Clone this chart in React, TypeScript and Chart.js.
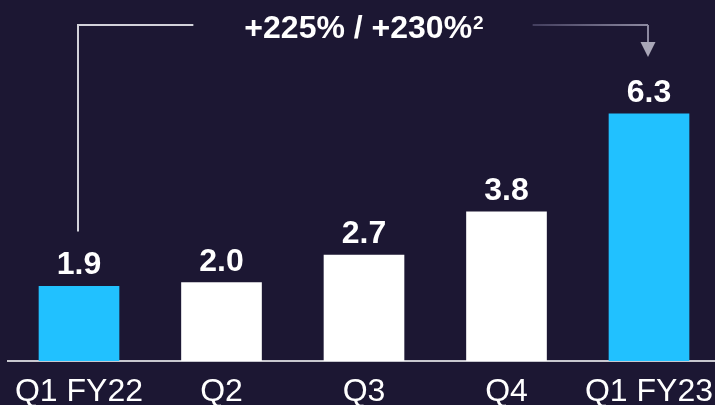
import React, { useEffect, useRef } from "react";
import { Chart, registerables } from "chart.js";

Chart.register(...registerables);

const categories = ["Q1 FY22", "Q2", "Q3", "Q4", "Q1 FY23"];
const revenue = [1.9, 2.0, 2.7, 3.8, 6.3];
const valueLabels = ["1.9", "2.0", "2.7", "3.8", "6.3"];
const barColors = ["#21c1ff", "#ffffff", "#ffffff", "#ffffff", "#21c1ff"];
const growthText = "+225% / +230%";
const growthNote = "2";

const BG = "#1c1733";
const FONT = "'Liberation Sans', Arial, sans-serif";

const overlayPlugin = {
  id: "overlay",
  afterDatasetsDraw(chart: any) {
    const ctx = chart.ctx;
    const meta = chart.getDatasetMeta(0);
    ctx.save();
    // value labels
    ctx.fillStyle = "#ffffff";
    ctx.font = `bold 32px ${FONT}`;
    ctx.textAlign = "center";
    ctx.textBaseline = "alphabetic";
    meta.data.forEach((bar: any, i: number) => {
      ctx.fillText(valueLabels[i], bar.x, bar.y - 12);
    });

    // growth annotation
    const first = meta.data[0];
    const last = meta.data[meta.data.length - 1];
    const cx = (first.x + last.x) / 2;
    const lineY = 25;
    ctx.font = `bold 32px ${FONT}`;
    const mainW = ctx.measureText(growthText).width;
    ctx.font = `bold 19px ${FONT}`;
    const supW = ctx.measureText(growthNote).width;
    const totalW = mainW + supW + 1;
    const startX = cx - totalW / 2;
    ctx.textAlign = "left";
    ctx.font = `bold 32px ${FONT}`;
    ctx.fillText(growthText, startX, 38);
    ctx.font = `bold 19px ${FONT}`;
    ctx.fillText(growthNote, startX + mainW + 1, 29);

    // left bracket
    ctx.lineWidth = 2;
    ctx.strokeStyle = "#d2d2da";
    ctx.beginPath();
    ctx.moveTo(first.x - 1, first.y - 55);
    ctx.lineTo(first.x - 1, lineY);
    ctx.lineTo(startX - 51, lineY);
    ctx.stroke();

    // right arrow
    const ax = last.x - 1;
    const grad = ctx.createLinearGradient(startX + totalW + 49, 0, ax, 0);
    grad.addColorStop(0, "#433e5e");
    grad.addColorStop(1, "#8c89a0");
    ctx.strokeStyle = grad;
    ctx.beginPath();
    ctx.moveTo(startX + totalW + 49, lineY);
    ctx.lineTo(ax, lineY);
    ctx.stroke();
    ctx.strokeStyle = "#8c89a0";
    ctx.beginPath();
    ctx.moveTo(ax, lineY);
    ctx.lineTo(ax, 43);
    ctx.stroke();
    ctx.fillStyle = "#a9a7b8";
    ctx.beginPath();
    ctx.moveTo(ax - 7.5, 42);
    ctx.lineTo(ax + 7.5, 42);
    ctx.lineTo(ax, 57);
    ctx.closePath();
    ctx.fill();
    ctx.restore();
  },
};

export default function App() {
  const canvasRef = useRef<HTMLCanvasElement | null>(null);

  useEffect(() => {
    document.documentElement.style.background = BG;
    document.body.style.margin = "0";
    document.body.style.background = BG;
    document.body.style.overflow = "hidden";
    const chart = new Chart(canvasRef.current as HTMLCanvasElement, {
      type: "bar",
      data: {
        labels: categories,
        datasets: [
          {
            data: revenue,
            backgroundColor: barColors,
            borderWidth: 0,
            barThickness: 80,
          },
        ],
      },
      options: {
        animation: false,
        responsive: true,
        maintainAspectRatio: false,
        layout: { padding: { left: 7.75, right: 9.75, top: 0, bottom: 0 } },
        plugins: {
          legend: { display: false },
          tooltip: { enabled: false },
        },
        scales: {
          x: {
            grid: { display: false, drawTicks: false, tickLength: 0 },
            border: { display: true, color: "#c8c8cf", width: 2 },
            ticks: {
              color: "#ffffff",
              padding: 12,
              font: { family: FONT, size: 32, lineHeight: 1.2 },
              maxRotation: 0,
              autoSkip: false,
            },
            afterFit(scale: any) {
              scale.height = 44;
            },
          },
          y: {
            display: false,
            min: 0,
            max: 9.2,
          },
        },
      },
      plugins: [overlayPlugin],
    });
    return () => chart.destroy();
  }, []);

  return (
    <div
      style={{
        position: "absolute",
        left: 0,
        top: 0,
        width: 730,
        height: 405,
        background: BG,
        overflow: "hidden",
      }}
    >
      <canvas ref={canvasRef} />
    </div>
  );
}
